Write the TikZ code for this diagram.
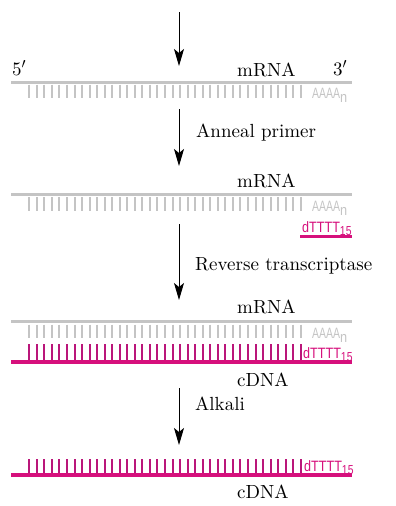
\documentclass[tikz,border=0pt]{standalone}
\usepackage{fontspec}
\usepackage{graphicx}
\newfontfamily\tagfont{Liberation Sans}
\newfontfamily\labelfont{lmroman10-regular}[Extension=.otf]
\usetikzlibrary{arrows.meta, positioning, calc}
\definecolor{rnagray}{RGB}{196,196,196}
\definecolor{dnapink}{RGB}{214,16,124}
\definecolor{toothpink}{RGB}{186,22,122}
\newcommand{\polyA}{\scalebox{0.7}[1]{AAAA}\raisebox{-4pt}{\scalebox{0.85}[1]{n}}}
\newcommand{\oligodT}{\scalebox{0.84}[1]{dTTTT}\raisebox{-3pt}{\scalebox{0.8}[1]{\fontsize{13}{13}\selectfont 15}}}

\begin{document}
\begin{tikzpicture}[
    x=1pt, y=-1pt,
    >={Stealth[length=17pt, width=10pt, inset=4pt]},
    arr/.style={->, line width=1pt},
    lbl/.style={font=\labelfont\fontsize{19}{22}\selectfont, anchor=base west, inner sep=0pt},
    tail/.style={font=\tagfont\fontsize{15}{16}\selectfont, anchor=base west, inner sep=0pt},
    rnaback/.style={rnagray, line width=3pt},
    rnatooth/.style={rnagray, line width=2pt},
    dnaback/.style={dnapink, line width=3.5pt},
    dnatooth/.style={toothpink, line width=2pt},
]
\useasboundingbox (0,0) rectangle (396,506);
% === Step 1: mRNA with poly(A) tail ===
\coordinate (a1s) at (179,12);
\coordinate (a1e) at (179,66);
\draw[arr] (a1s) -- (a1e);
\node[lbl] (five) at (12,75) {5$'$};
\node[lbl] (mrna1) at (237,76) {mRNA};
\node[lbl] (three) at (333,75) {3$'$};
\draw[rnaback] (11,82.5) -- (352,82.5);
\foreach \i in {0,...,36} {
    \draw[rnatooth] (29.3+\i*7.54,84.5) -- ++(0,13.5);
}
\node[tail, text=rnagray] (tail1) at (312,98) {\polyA};
% === Step 2: anneal oligo(dT) primer ===
\coordinate (a2s) at (179,109);
\coordinate (a2e) at (179,166);
\draw[arr] (a2s) -- (a2e);
\node[lbl] (anneal) at (196,137) {Anneal primer};
\node[lbl] (mrna2) at (237,187) {mRNA};
\draw[rnaback] (11,194.3) -- (352,194.3);
\foreach \i in {0,...,36} {
    \draw[rnatooth] (29.3+\i*7.54,197) -- ++(0,14);
}
\node[tail, text=rnagray] (tail2) at (312,211) {\polyA};
\node[tail, text=dnapink] (primer2) at (302,232) {\oligodT};
\draw[dnaback] (300,236.6) -- (351.7,236.6);
% === Step 3: reverse transcription ===
\coordinate (a3s) at (179,224);
\coordinate (a3e) at (179,300);
\draw[arr] (a3s) -- (a3e);
\node[lbl] (rt) at (195,270) {Reverse transcriptase};
\node[lbl] (mrna3) at (237,313) {mRNA};
\draw[rnaback] (11,321.7) -- (352,321.7);
\foreach \i in {0,...,36} {
    \draw[rnatooth] (29.3+\i*7.54,324.5) -- ++(0,13.5);
    \draw[dnatooth] (29.3+\i*7.54,344) -- ++(0,17);
}
\node[tail, text=rnagray] (tail3) at (312,338) {\polyA};
\node[tail, text=dnapink] (primer3) at (303,358) {\oligodT};
\draw[dnaback] (11,362) -- (352,362);
\node[lbl] (cdna3) at (237,386) {cDNA};
% === Step 4: alkaline hydrolysis of the mRNA ===
\coordinate (a4s) at (179,388);
\coordinate (a4e) at (179,445);
\draw[arr] (a4s) -- (a4e);
\node[lbl] (alkali) at (195,410) {Alkali};
\foreach \i in {0,...,36} {
    \draw[dnatooth] (29.3+\i*7.54,459) -- ++(0,15);
}
\node[tail, text=dnapink] (primer4) at (304,471.5) {\oligodT};
\draw[dnaback] (11,475) -- (352,475);
\node[lbl] (cdna4) at (237,498) {cDNA};
\end{tikzpicture}
\end{document}
